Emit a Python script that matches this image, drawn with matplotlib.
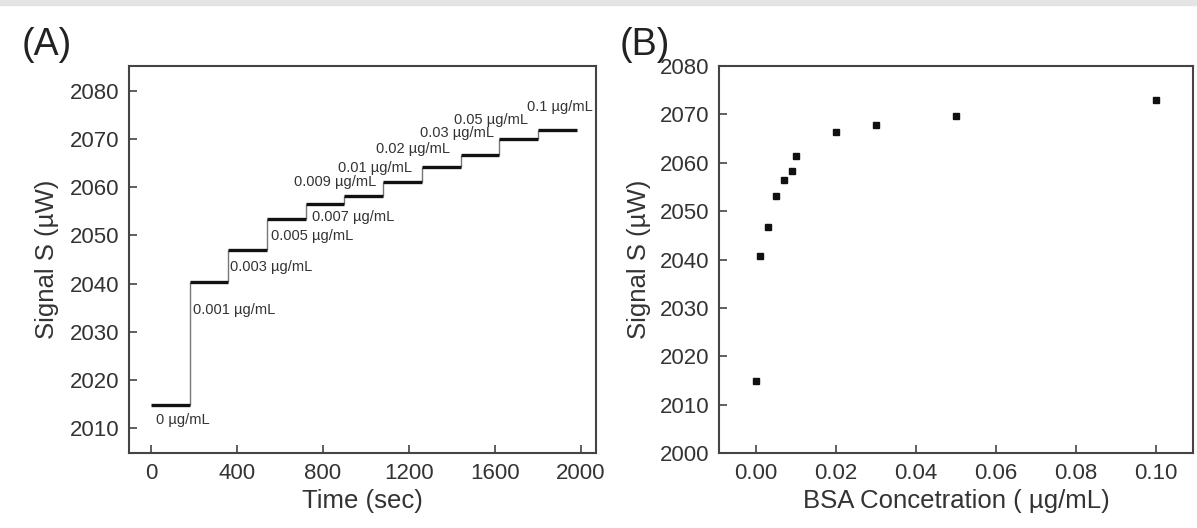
import matplotlib
matplotlib.use("Agg")
import matplotlib.pyplot as plt
from matplotlib.patches import Rectangle

plt.rcParams['font.family'] = ['Liberation Sans', 'DejaVu Sans']

# ---- Panel A data ----
step_starts = [0, 180, 360, 540, 720, 900, 1080, 1260, 1440, 1620, 1800]
step_end = 1980
step_levels = [2014.8, 2040.4, 2047.0, 2053.5, 2056.6, 2058.1, 2061.1, 2064.2, 2066.8, 2070.0, 2071.9]
step_labels = ["0 µg/mL", "0.001 µg/mL", "0.003 µg/mL", "0.005 µg/mL", "0.007 µg/mL",
               "0.009 µg/mL", "0.01 µg/mL", "0.02 µg/mL", "0.03 µg/mL", "0.05 µg/mL", "0.1 µg/mL"]
label_x = [23, 195, 367, 558, 749, 665, 870, 1047, 1251, 1409, 1749]
label_y = [2011.7, 2034.5, 2043.4, 2049.8, 2053.8, 2061.0, 2064.1, 2067.9, 2071.2, 2073.9, 2076.6]
xticks_a = [0, 400, 800, 1200, 1600, 2000]
yticks_a = [2010, 2020, 2030, 2040, 2050, 2060, 2070, 2080]

# ---- Panel B data ----
conc = [0.0, 0.001, 0.003, 0.005, 0.007, 0.009, 0.01, 0.02, 0.03, 0.05, 0.1]
signal = [2014.9, 2040.7, 2046.8, 2053.1, 2056.5, 2058.3, 2061.4, 2066.4, 2067.8, 2069.6, 2072.9]
xticks_b = [0.00, 0.02, 0.04, 0.06, 0.08, 0.10]
yticks_b = [2000, 2010, 2020, 2030, 2040, 2050, 2060, 2070, 2080]

txt = '#333333'
spine_c = '#444444'

fig = plt.figure(figsize=(11.97, 5.28), dpi=100)
fig.patches.append(Rectangle((0, 1 - 5 / 528), 1, 5 / 528, transform=fig.transFigure,
                             color='#e4e4e4', zorder=0))

axA = fig.add_axes([129 / 1197, 1 - 453 / 528, (596 - 129) / 1197, (453 - 66) / 528])
axB = fig.add_axes([719 / 1197, 1 - 453 / 528, (1193 - 719) / 1197, (453 - 66) / 528])

# Panel A
bounds = step_starts + [step_end]
axA.hlines(step_levels, bounds[:-1], bounds[1:], color='#111111', lw=2.4, zorder=3)
axA.vlines(bounds[1:-1], step_levels[:-1], step_levels[1:], color='#777777', lw=1.0, zorder=2)
for s, x, y in zip(step_labels, label_x, label_y):
    axA.text(x, y, s, fontsize=10.5, color=txt, ha='left', va='center')
axA.set_xlim(-102, 2070)
axA.set_ylim(2004.8, 2085.2)
axA.set_xticks(xticks_a)
axA.set_yticks(yticks_a)
axA.set_xlabel("Time (sec)", fontsize=18.5, color=txt, labelpad=4)
axA.set_ylabel("Signal S (µW)", fontsize=18.5, color=txt, labelpad=8)

# Panel B
axB.plot(conc, signal, 's', color='#111111', markersize=4.5, zorder=3)
axB.set_xlim(-0.0093, 0.1093)
axB.set_ylim(2000, 2080)
axB.set_xticks(xticks_b)
axB.set_xticklabels([f"{v:.2f}" for v in xticks_b])
axB.set_yticks(yticks_b)
axB.set_xlabel("BSA Concetration ( µg/mL)", fontsize=18.5, color=txt, labelpad=4)
axB.set_ylabel("Signal S (µW)", fontsize=18.5, color=txt, labelpad=6)

for ax in (axA, axB):
    ax.tick_params(direction='in', length=6, width=1.2, colors=spine_c,
                   labelsize=16, labelcolor=txt, pad=7)
    for sp in ax.spines.values():
        sp.set_color(spine_c)
        sp.set_linewidth(1.5)

fig.text(22 / 1197, 1 - 55 / 528, "(A)", fontsize=27, color='#222222', ha='left', va='baseline')
fig.text(620 / 1197, 1 - 55 / 528, "(B)", fontsize=27, color='#222222', ha='left', va='baseline')

fig.savefig("out.png", dpi=100)
